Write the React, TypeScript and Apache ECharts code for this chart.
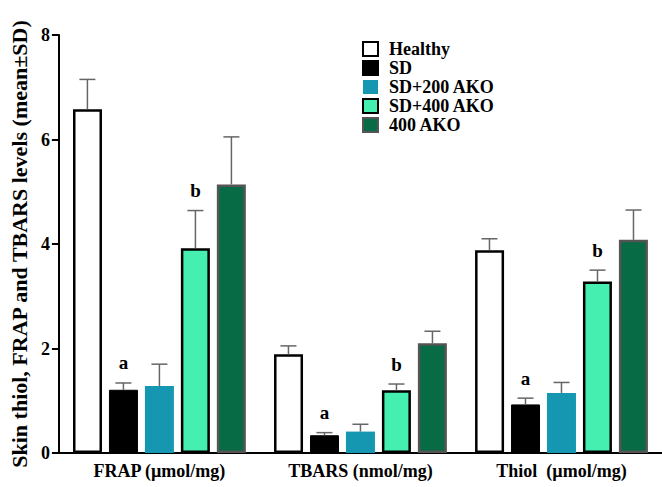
import React, { useEffect, useRef } from "react";
import * as echarts from "echarts";

const categories = ["FRAP (µmol/mg)", "TBARS (nmol/mg)", "Thiol  (µmol/mg)"];
const groupNames = ["Healthy", "SD", "SD+200 AKO", "SD+400 AKO", "400 AKO"];
const healthyMean = [6.58, 1.89, 3.88];
const healthySD = [0.57, 0.16, 0.22];
const sdMean = [1.21, 0.34, 0.93];
const sdSD = [0.13, 0.05, 0.12];
const sd200Mean = [1.28, 0.41, 1.15];
const sd200SD = [0.42, 0.14, 0.2];
const sd400Mean = [3.92, 1.2, 3.28];
const sd400SD = [0.72, 0.12, 0.22];
const ako400Mean = [5.14, 2.1, 4.08];
const ako400SD = [0.91, 0.23, 0.57];
const noLetters = ["", "", ""];
const sdLetters = ["a", "a", "a"];
const sd400Letters = ["b", "b", "b"];
const yMin = 0;
const yMax = 8;
const yInterval = 2;

const means = [healthyMean, sdMean, sd200Mean, sd400Mean, ako400Mean];
const sds = [healthySD, sdSD, sd200SD, sd400SD, ako400SD];
const letters = [noLetters, sdLetters, noLetters, sd400Letters, noLetters];

const FONT = "'Liberation Serif', 'Times New Roman', 'DejaVu Serif', serif";

const itemStyles = [
  { color: "#ffffff", borderColor: "#000000", borderWidth: 2.5 },
  { color: "#000000", borderColor: "#000000", borderWidth: 1 },
  { color: "#1597b2", borderColor: "#1597b2", borderWidth: 0 },
  { color: "#44efb0", borderColor: "#000000", borderWidth: 2.5 },
  { color: "#076b45", borderColor: "#555555", borderWidth: 2.5 },
];

const BAR_W = 29;
const PITCH = 36;

export default function App() {
  const ref = useRef<HTMLDivElement>(null);
  useEffect(() => {
    if (!ref.current) return;
    const chart = echarts.init(ref.current, undefined, { renderer: "svg" });
    const barSeries = groupNames.map((name, i) => ({
      name,
      type: "bar",
      data: means[i],
      barWidth: BAR_W,
      barGap: "24%",
      itemStyle: itemStyles[i],
      z: 2,
    }));
    const errSeries = groupNames.map((name, i) => ({
      name: "err_" + name,
      type: "custom",
      z: 3,
      data: categories.map((_, c) => [c, means[i][c], sds[i][c]]),
      renderItem: (params: any, api: any) => {
        const c = api.value(0);
        const m = api.value(1);
        const s = api.value(2);
        const b = api.coord([c, m]);
        const t = api.coord([c, m + s]);
        const x = b[0] + (i - 2) * PITCH;
        const children: any[] = [
          {
            type: "line",
            shape: { x1: x, y1: b[1], x2: x, y2: t[1] },
            style: { stroke: "#666666", lineWidth: 1.5 },
          },
          {
            type: "line",
            shape: { x1: x - 8, y1: t[1], x2: x + 8, y2: t[1] },
            style: { stroke: "#666666", lineWidth: 1.5 },
          },
        ];
        const letter = letters[i][params.dataIndex];
        if (letter) {
          children.push({
            type: "text",
            style: {
              x,
              y: t[1] - 20,
              text: letter,
              fill: "#000",
              font: `bold 19px ${FONT}`,
              align: "center",
              verticalAlign: "middle",
            },
          });
        }
        return { type: "group", children };
      },
    }));
    chart.setOption({
      animation: false,
      backgroundColor: "#ffffff",
      grid: { left: 53, top: 35, width: 624, height: 418, containLabel: false },
      legend: {
        data: groupNames,
        orient: "vertical",
        left: 357,
        top: 35,
        itemWidth: 15,
        itemHeight: 14,
        itemGap: 1,
        icon: "rect",
        textStyle: {
          fontFamily: FONT,
          fontWeight: "bold",
          fontSize: 18,
          color: "#000",
          padding: [0, 0, 0, 6],
        },
      },
      xAxis: {
        type: "category",
        data: categories,
        boundaryGap: true,
        axisLine: { lineStyle: { color: "#000", width: 2 } },
        axisTick: { alignWithLabel: true, length: 7, lineStyle: { color: "#000", width: 2.5 } },
        axisLabel: {
          margin: 9,
          fontFamily: FONT,
          fontWeight: "bold",
          fontSize: 18,
          color: "#000",
        },
      },
      yAxis: {
        type: "value",
        min: yMin,
        max: yMax,
        interval: yInterval,
        name: "Skin thiol, FRAP and TBARS levels (mean±SD)",
        nameLocation: "middle",
        nameGap: 23,
        nameTextStyle: {
          fontFamily: FONT,
          fontWeight: "bold",
          fontSize: 22,
          color: "#000",
        },
        axisLine: { show: true, lineStyle: { color: "#000", width: 2 } },
        axisTick: { show: true, length: 7, lineStyle: { color: "#000", width: 2 } },
        splitLine: { show: false },
        axisLabel: {
          margin: 9,
          fontFamily: FONT,
          fontWeight: "bold",
          fontSize: 18,
          color: "#000",
        },
      },
      series: [...barSeries, ...errSeries],
    });
    return () => chart.dispose();
  }, []);
  return (
    <div
      ref={ref}
      style={{ position: "absolute", left: 0, top: 0, width: 662, height: 487 }}
    />
  );
}
